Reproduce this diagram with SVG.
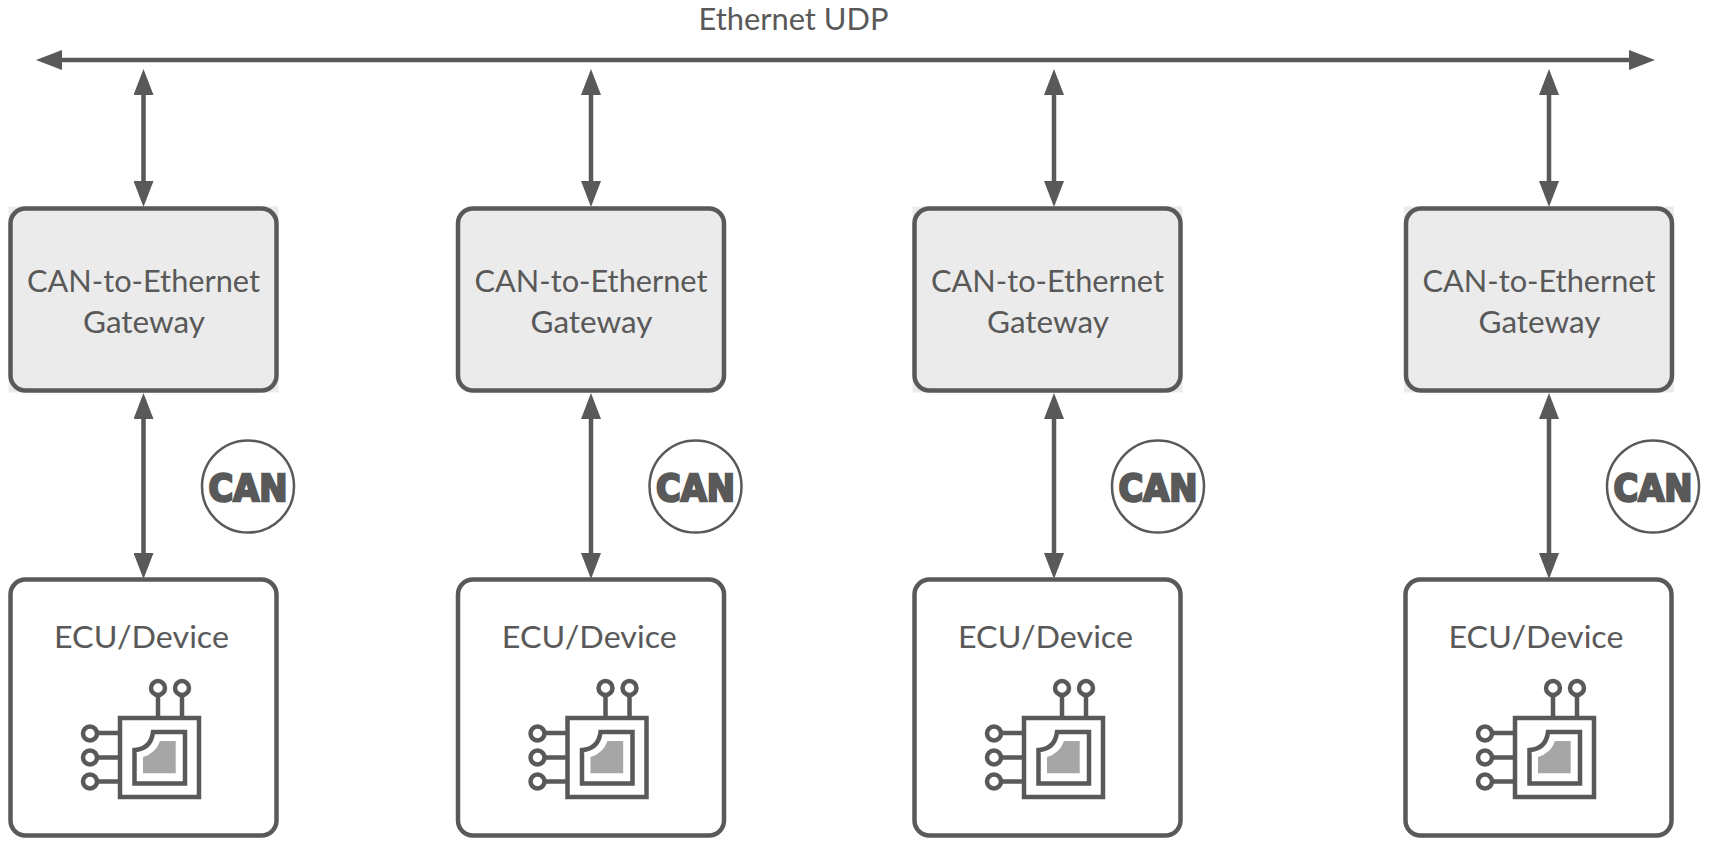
<svg xmlns="http://www.w3.org/2000/svg" width="1710" height="852" viewBox="0 0 1710 852">
<style>
.t{font-family:"Lato","Open Sans",sans-serif;font-size:31px;fill:#595959;text-anchor:middle}
.gw{fill:#EBEBEB;stroke:#595959;stroke-width:4.500}
.bg{fill:#EBEBEB}
.ecu{fill:#fff;stroke:#595959;stroke-width:4.500}
.c{stroke:#595959;stroke-width:4.500;fill:none}
.pin{stroke:#595959;stroke-width:4.500;fill:#fff}
.can{fill:#fff;stroke:#595959;stroke-width:2.500}
.cant{font-family:"DejaVu Sans",sans-serif;font-weight:bold;font-size:38px;fill:#595959;stroke:#595959;stroke-width:2.500;stroke-linejoin:miter;text-anchor:middle}
</style>
<defs>
<marker id="a" viewBox="0 0 26 20" markerWidth="26" markerHeight="20" markerUnits="userSpaceOnUse" refX="6" refY="10" orient="auto-start-reverse"><path d="M0,0L26,10L0,20z" fill="#595959"/></marker>
<g id="chip">
<path class="pin" d="M158,718V695M182,718V695M120,733H98M120,757.500H98M120,781.500H98"/>
<circle class="pin" cx="158" cy="688" r="7"/><circle class="pin" cx="182" cy="688" r="7"/>
<circle class="pin" cx="90" cy="733.500" r="7"/><circle class="pin" cx="90" cy="757.500" r="7"/><circle class="pin" cx="90" cy="781.500" r="7"/>
<rect class="pin" x="120" y="718" width="79" height="79"/>
<path class="pin" d="M153,732H185V783.500H134.500V750Q151,749 153,732z"/>
<path d="M160,741H175.700V773.300H143V757Q156,753 160,741z" fill="#A6A6A6"/>
</g>
</defs>
<rect width="1710" height="852" fill="#fff"/>
<g id="connectors">
<line class="c" x1="56" y1="60" x2="1635" y2="60" marker-start="url(#a)" marker-end="url(#a)"/>
<line class="c" x1="143.500" y1="89" x2="143.500" y2="187" marker-start="url(#a)" marker-end="url(#a)"/>
<line class="c" x1="143.500" y1="413" x2="143.500" y2="559" marker-start="url(#a)" marker-end="url(#a)"/>
<line class="c" x1="591" y1="89" x2="591" y2="187" marker-start="url(#a)" marker-end="url(#a)"/>
<line class="c" x1="591" y1="413" x2="591" y2="559" marker-start="url(#a)" marker-end="url(#a)"/>
<line class="c" x1="1054" y1="89" x2="1054" y2="187" marker-start="url(#a)" marker-end="url(#a)"/>
<line class="c" x1="1054" y1="413" x2="1054" y2="559" marker-start="url(#a)" marker-end="url(#a)"/>
<line class="c" x1="1549" y1="89" x2="1549" y2="187" marker-start="url(#a)" marker-end="url(#a)"/>
<line class="c" x1="1549" y1="413" x2="1549" y2="559" marker-start="url(#a)" marker-end="url(#a)"/>
</g>
<g id="title"><text class="t" x="793.500" y="30" textLength="190" lengthAdjust="spacingAndGlyphs">Ethernet UDP</text></g>
<g id="gateway1"><rect class="bg" x="8.500" y="206.500" width="270" height="186"/><rect class="gw" x="10.500" y="208.500" width="266" height="182" rx="15"/><text class="t" x="143.500" y="292" textLength="233" lengthAdjust="spacingAndGlyphs">CAN-to-Ethernet</text><text class="t" x="144" y="333" textLength="122" lengthAdjust="spacingAndGlyphs">Gateway</text></g>
<g id="gateway2"><rect class="gw" x="458" y="208.500" width="266" height="182" rx="15"/><text class="t" x="591" y="292" textLength="233" lengthAdjust="spacingAndGlyphs">CAN-to-Ethernet</text><text class="t" x="591.500" y="333" textLength="122" lengthAdjust="spacingAndGlyphs">Gateway</text></g>
<g id="gateway3"><rect class="bg" x="912.500" y="206.500" width="270" height="186"/><rect class="gw" x="914.500" y="208.500" width="266" height="182" rx="15"/><text class="t" x="1047.500" y="292" textLength="233" lengthAdjust="spacingAndGlyphs">CAN-to-Ethernet</text><text class="t" x="1048" y="333" textLength="122" lengthAdjust="spacingAndGlyphs">Gateway</text></g>
<g id="gateway4"><rect class="bg" x="1404" y="206.500" width="270" height="186"/><rect class="gw" x="1406" y="208.500" width="266" height="182" rx="15"/><text class="t" x="1539" y="292" textLength="233" lengthAdjust="spacingAndGlyphs">CAN-to-Ethernet</text><text class="t" x="1539.500" y="333" textLength="122" lengthAdjust="spacingAndGlyphs">Gateway</text></g>
<g id="ecu1"><rect class="ecu" x="10.500" y="579.500" width="266" height="256" rx="15"/><text class="t" x="141.500" y="647.500" textLength="175" lengthAdjust="spacingAndGlyphs">ECU/Device</text><use href="#chip"/></g>
<g id="ecu2"><rect class="ecu" x="458" y="579.500" width="266" height="256" rx="15"/><text class="t" x="589.300" y="647.500" textLength="175" lengthAdjust="spacingAndGlyphs">ECU/Device</text><use href="#chip" x="447.500"/></g>
<g id="ecu3"><rect class="ecu" x="914.500" y="579.500" width="266" height="256" rx="15"/><text class="t" x="1045.500" y="647.500" textLength="175" lengthAdjust="spacingAndGlyphs">ECU/Device</text><use href="#chip" x="904"/></g>
<g id="ecu4"><rect class="ecu" x="1405.500" y="579.500" width="266" height="256" rx="15"/><text class="t" x="1536" y="647.500" textLength="175" lengthAdjust="spacingAndGlyphs">ECU/Device</text><use href="#chip" x="1395"/></g>
<g id="can1"><circle class="can" cx="248" cy="486.500" r="46"/><text class="cant" x="248" y="501" textLength="79" lengthAdjust="spacingAndGlyphs">CAN</text></g>
<g id="can2"><circle class="can" cx="695.500" cy="486.500" r="46"/><text class="cant" x="695.500" y="501" textLength="79" lengthAdjust="spacingAndGlyphs">CAN</text></g>
<g id="can3"><circle class="can" cx="1158" cy="486.500" r="46"/><text class="cant" x="1158" y="501" textLength="79" lengthAdjust="spacingAndGlyphs">CAN</text></g>
<g id="can4"><circle class="can" cx="1653" cy="486.500" r="46"/><text class="cant" x="1653" y="501" textLength="79" lengthAdjust="spacingAndGlyphs">CAN</text></g>
</svg>
